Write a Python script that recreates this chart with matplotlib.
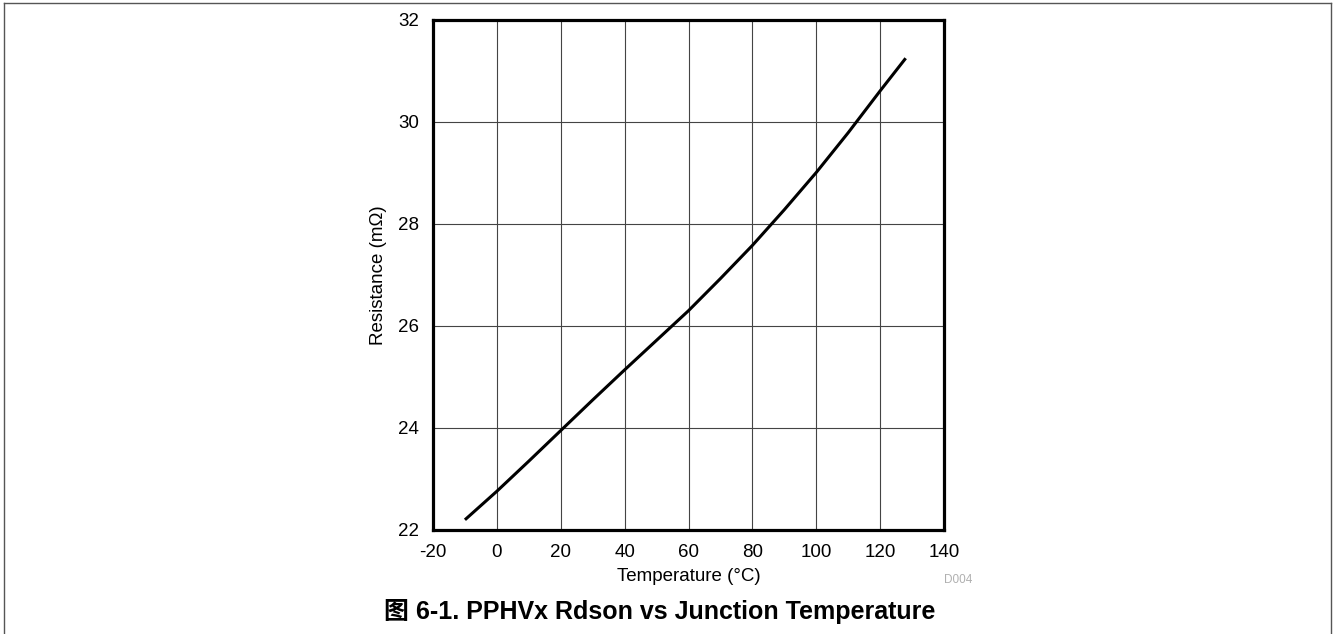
import matplotlib
matplotlib.use('Agg')
import matplotlib.pyplot as plt
from matplotlib.lines import Line2D

plt.rcParams['font.family'] = ['Liberation Sans', 'Noto Sans CJK SC', 'DejaVu Sans']
plt.rcParams['axes.unicode_minus'] = False

# values
temperature = [-10, 0, 10, 20, 30, 40, 50, 60, 70, 80, 90, 100, 110, 120, 128]
resistance = [22.2, 22.76, 23.35, 23.95, 24.55, 25.14, 25.72, 26.3, 26.93, 27.58, 28.28, 29.01, 29.79, 30.61, 31.25]
x_ticks = [-20, 0, 20, 40, 60, 80, 100, 120, 140]
y_ticks = [22, 24, 26, 28, 30, 32]

fig = plt.figure(figsize=(13.36, 6.34), dpi=100)
ax = fig.add_axes([433/1336, 104/634, 511/1336, 510/634])

ax.plot(temperature, resistance, color='black', lw=2.2, solid_capstyle='butt')

ax.set_xlim(-20, 140)
ax.set_ylim(22, 32)
ax.set_xticks(x_ticks)
ax.set_yticks(y_ticks)
ax.tick_params(length=0, labelsize=13.5)
ax.tick_params(axis='y', pad=10)
ax.tick_params(axis='x', pad=10)
ax.grid(True, color='#444444', lw=0.8)
ax.set_axisbelow(True)
for s in ax.spines.values():
    s.set_linewidth(2.3)
    s.set_color('black')

ax.set_xlabel('Temperature (°C)', fontsize=13.5, labelpad=5)
ax.set_ylabel('Resistance (m\u03a9)', fontsize=13.5, labelpad=8)

fig.text(972/1336, 1 - 580/634, 'D004', ha='right', va='center', fontsize=8.5, color='#b0b0b0')
fig.text(660/1336, 1 - 612/634, '图 6-1. PPHVx Rdson vs Junction Temperature',
         ha='center', va='center', fontsize=18, fontweight='bold')

# thin outer frame (no bottom edge)
fc = '#555555'
fig.add_artist(Line2D([4/1336, 4/1336], [0, 1 - 3/634], transform=fig.transFigure, color=fc, lw=1))
fig.add_artist(Line2D([4/1336, 1331/1336], [1 - 3/634, 1 - 3/634], transform=fig.transFigure, color=fc, lw=1))
fig.add_artist(Line2D([1331/1336, 1331/1336], [0, 1 - 3/634], transform=fig.transFigure, color=fc, lw=1))

fig.savefig('out.png', dpi=100)
